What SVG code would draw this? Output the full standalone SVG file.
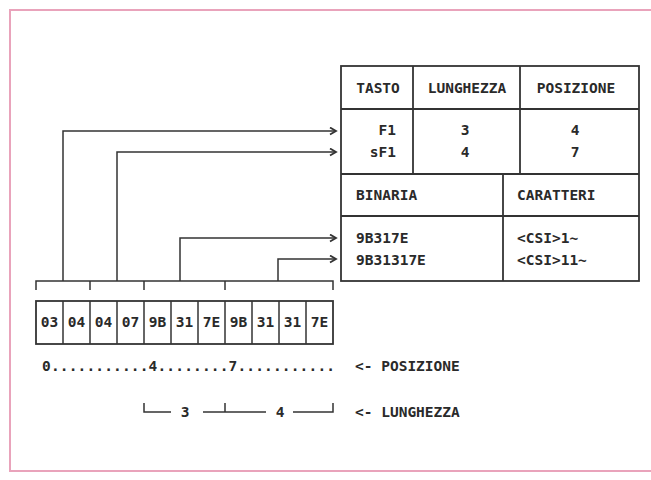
<svg xmlns="http://www.w3.org/2000/svg" width="651" height="480" viewBox="0 0 651 480">
<defs>
<style>
text{font-family:"DejaVu Sans Mono","Liberation Mono",monospace;font-weight:bold;font-size:14.5px;fill:#2a2a2a}
.c{text-anchor:middle}
.e{text-anchor:end}
.ln{fill:none;stroke:#333;stroke-width:1.5}
.tb{fill:none;stroke:#333;stroke-width:1.8}
</style>
<marker id="ah" markerWidth="10" markerHeight="10" refX="7" refY="4" orient="auto" markerUnits="userSpaceOnUse">
<polyline points="1,0.5 7,4 1,7.5" fill="none" stroke="#333" stroke-width="1.8"/>
</marker>
</defs>
<rect x="0" y="0" width="651" height="480" fill="#fff"/>
<rect x="10" y="10" width="660" height="461" fill="none" stroke="#e9a3bb" stroke-width="2"/>

<g id="table">
<rect class="tb" x="341" y="66" width="298" height="215" fill="#fff"/>
<line class="tb" x1="341" y1="109" x2="639" y2="109"/>
<line class="tb" x1="341" y1="174" x2="639" y2="174"/>
<line class="tb" x1="341" y1="216" x2="639" y2="216"/>
<line class="tb" x1="413" y1="66" x2="413" y2="174"/>
<line class="tb" x1="520" y1="66" x2="520" y2="174"/>
<line class="tb" x1="503" y1="174" x2="503" y2="281"/>
<text class="c" x="378" y="93">TASTO</text>
<text class="c" x="467" y="93">LUNGHEZZA</text>
<text class="c" x="576" y="93">POSIZIONE</text>
<text class="e" x="396" y="135">F1</text>
<text class="e" x="396" y="157">sF1</text>
<text class="c" x="465" y="135">3</text>
<text class="c" x="465" y="157">4</text>
<text class="c" x="575" y="135">4</text>
<text class="c" x="575" y="157">7</text>
<text x="356" y="200">BINARIA</text>
<text x="517" y="200">CARATTERI</text>
<text x="356" y="243">9B317E</text>
<text x="356" y="265">9B31317E</text>
<text x="517" y="243">&lt;CSI&gt;1~</text>
<text x="517" y="265">&lt;CSI&gt;11~</text>
</g>

<g id="connectors">
<polyline class="ln" points="63,281 63,131 336,131" marker-end="url(#ah)"/>
<polyline class="ln" points="117,281 117,152 336,152" marker-end="url(#ah)"/>
<polyline class="ln" points="180,281 180,238 336,238" marker-end="url(#ah)"/>
<polyline class="ln" points="278,281 278,259 336,259" marker-end="url(#ah)"/>
<polyline class="ln" points="36,290 36,281 333,281 333,290"/>
<line class="ln" x1="90" y1="281" x2="90" y2="290"/>
<line class="ln" x1="144" y1="281" x2="144" y2="290"/>
<line class="ln" x1="225" y1="281" x2="225" y2="290"/>
</g>

<g id="bytes">
<rect class="tb" x="36" y="301" width="297" height="43"/>
<line class="ln" x1="63" y1="301" x2="63" y2="344"/>
<line class="ln" x1="90" y1="301" x2="90" y2="344"/>
<line class="ln" x1="117" y1="301" x2="117" y2="344"/>
<line class="ln" x1="144" y1="301" x2="144" y2="344"/>
<line class="ln" x1="171" y1="301" x2="171" y2="344"/>
<line class="ln" x1="198" y1="301" x2="198" y2="344"/>
<line class="ln" x1="225" y1="301" x2="225" y2="344"/>
<line class="ln" x1="252" y1="301" x2="252" y2="344"/>
<line class="ln" x1="279" y1="301" x2="279" y2="344"/>
<line class="ln" x1="306" y1="301" x2="306" y2="344"/>
<text class="c" x="49.5" y="327">03</text>
<text class="c" x="76.5" y="327">04</text>
<text class="c" x="103.5" y="327">04</text>
<text class="c" x="130.5" y="327">07</text>
<text class="c" x="157.5" y="327">9B</text>
<text class="c" x="184.5" y="327">31</text>
<text class="c" x="211.5" y="327">7E</text>
<text class="c" x="238.5" y="327">9B</text>
<text class="c" x="265.5" y="327">31</text>
<text class="c" x="292.5" y="327">31</text>
<text class="c" x="319.5" y="327">7E</text>
</g>

<g id="posizione">
<text x="42" y="371" textLength="293" lengthAdjust="spacing">0...........4........7...........</text>
<text x="355" y="371">&lt;- POSIZIONE</text>
</g>

<g id="lunghezza">
<polyline class="ln" points="144,403 144,412 171,412"/>
<text class="c" x="185" y="417">3</text>
<line class="ln" x1="203" y1="412" x2="266" y2="412"/>
<line class="ln" x1="225" y1="403" x2="225" y2="412"/>
<text class="c" x="280" y="417">4</text>
<polyline class="ln" points="293,412 333,412 333,403"/>
<text x="355" y="417">&lt;- LUNGHEZZA</text>
</g>
</svg>
